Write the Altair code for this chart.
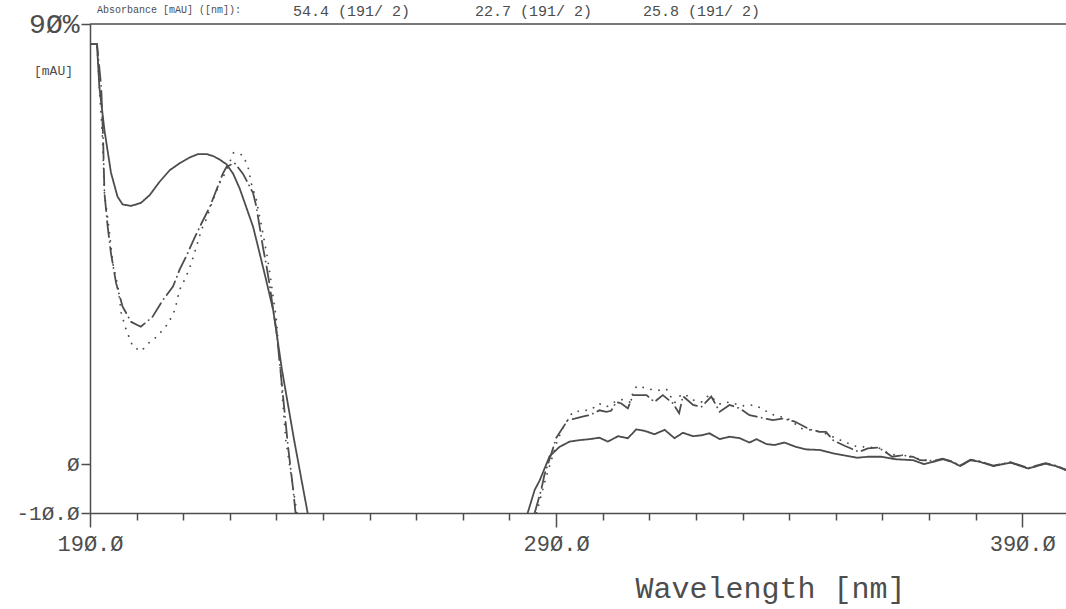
import altair as alt
import pandas as pd

# ---------------- data ----------------
series_names = ["solid", "dashdot", "dotted"]

solid_nm_a = [190.4, 191.5, 192.0, 193.1, 194.5, 195.9, 197.0, 198.8, 200.9, 202.8, 204.9, 207.1,
              209.2, 211.4, 213.2, 215.0, 216.4, 217.8, 219.3, 220.7, 222.1, 223.5, 225.0, 226.4,
              227.8, 229.3, 231.2, 233.8, 236.7]
solid_val_a = [85.9, 85.9, 77.2, 68.3, 59.6, 54.7, 53.1, 52.8, 53.4, 55.0, 57.7, 60.1,
               61.5, 62.7, 63.4, 63.4, 63.0, 62.3, 61.3, 59.4, 56.4, 52.6, 48.5, 43.1,
               37.6, 31.5, 19.2, 4.9, -10.0]
solid_nm_b = [283.9, 285.4, 286.5, 288.6, 290.7, 292.9, 295.0, 297.2, 299.3, 301.1, 303.3, 305.4,
              307.2, 309.0, 311.1, 313.3, 315.4, 317.2, 319.4, 321.2, 322.9, 325.1, 327.2, 329.4,
              331.5, 333.0, 335.1, 336.9, 339.0, 341.5, 343.7, 346.5, 349.4, 354.6, 356.9, 359.8,
              362.8, 366.6, 368.9, 371.1, 372.9, 374.8, 376.7, 378.9, 380.8, 383.8, 387.5, 391.3,
              395.0, 397.2, 399.3]
solid_val_b = [-10.0, -5.3, -3.3, 1.6, 3.5, 4.6, 4.9, 5.1, 5.4, 4.6, 5.7, 5.3,
               7.1, 6.8, 6.1, 7.0, 5.3, 6.4, 5.7, 5.9, 6.3, 5.1, 5.6, 5.3,
               4.4, 5.1, 4.1, 3.9, 4.4, 3.5, 3.0, 2.9, 2.2, 1.3, 1.5, 1.5,
               1.0, 0.8, 0.0, 0.5, 1.0, 0.5, -0.4, 0.8, 0.5, -0.4, 0.3, -0.9,
               0.1, -0.4, -1.2]

dashdot_nm_a = [190.4, 191.5, 192.4, 192.8, 193.1, 193.8, 194.5, 195.6, 197.0, 198.8, 200.9, 203.4,
                205.6, 207.8, 209.2, 210.6, 212.4, 213.9, 215.7, 217.1, 218.5, 219.3, 221.0, 222.8,
                224.3, 225.0, 225.7, 226.4, 227.1, 227.9, 228.6, 229.3, 230.0, 232.5, 233.6, 234.1]
dashdot_val_a = [85.9, 85.9, 77.2, 66.9, 55.4, 48.5, 43.1, 37.0, 32.2, 29.1, 28.1, 30.1,
                 33.5, 36.3, 39.7, 42.4, 46.2, 49.2, 52.6, 56.0, 59.4, 60.8, 61.6, 59.4,
                 56.7, 55.4, 52.6, 48.5, 44.4, 40.3, 36.3, 31.5, 27.4, 3.5, -5.3, -10.0]
dashdot_nm_b = [285.4, 286.8, 287.5, 289.0, 290.0, 292.5, 294.0, 296.1, 297.2, 299.3, 300.8, 301.8,
                302.9, 304.0, 305.4, 306.5, 309.4, 311.1, 312.9, 315.1, 316.4, 317.2, 319.4, 321.2,
                323.3, 325.1, 327.2, 329.4, 331.5, 336.5, 338.7, 341.2, 344.4, 346.5, 347.9, 349.4,
                352.0, 355.0, 356.9, 359.1, 360.6, 362.1, 364.4, 366.6, 368.1, 371.1, 372.9, 374.8,
                376.7, 378.9, 380.8, 383.8, 387.5, 391.3, 395.0, 397.2, 399.3]
dashdot_val_b = [-10.0, -5.3, -2.2, 2.2, 5.3, 9.0, 9.3, 9.8, 10.0, 11.0, 10.7, 10.9,
                 12.7, 12.4, 11.4, 14.1, 14.1, 12.7, 14.1, 12.4, 10.4, 13.9, 12.1, 11.7,
                 13.8, 10.7, 12.1, 11.4, 10.0, 9.0, 9.3, 8.7, 7.1, 6.6, 6.6, 4.9,
                 3.7, 2.5, 3.2, 3.4, 2.5, 1.5, 1.8, 1.5, 0.8, 0.7, 1.1, 0.6,
                 -0.3, 0.9, 0.6, -0.3, 0.4, -0.8, 0.2, -0.3, -1.1]

dotted_nm_a = [190.4, 191.5, 192.0, 192.7, 193.1, 194.2, 194.9, 196.0, 196.7, 197.8, 199.2, 201.0,
               202.5, 203.9, 205.3, 206.8, 208.2, 209.2, 210.6, 211.7, 212.8, 213.9, 215.0, 216.0,
               217.8, 219.3, 220.8, 222.8, 223.9, 224.6, 225.7, 226.4, 227.1, 227.9, 228.6, 229.3,
               230.0, 232.0, 234.4]
dotted_val_a = [85.9, 85.9, 77.2, 66.3, 55.4, 47.2, 41.0, 36.3, 30.8, 27.4, 24.0, 23.1,
                24.7, 25.7, 27.1, 28.8, 31.5, 35.6, 38.3, 41.0, 44.4, 47.9, 50.2, 53.0,
                57.4, 60.1, 63.7, 63.2, 60.8, 57.4, 54.0, 50.6, 47.2, 43.1, 39.0, 34.2,
                29.4, 4.9, -10.0]
dotted_nm_b = [285.8, 287.1, 288.0, 289.3, 290.3, 291.5, 293.6, 295.8, 297.6, 299.2, 300.8, 302.9,
               304.3, 305.8, 306.5, 307.3, 309.4, 311.1, 312.6, 313.7, 315.4, 316.9, 317.9, 319.4,
               321.2, 322.8, 325.1, 326.2, 327.9, 329.7, 332.6, 334.4, 336.2, 338.0, 339.4, 341.2,
               342.6, 344.4, 347.2, 351.7, 354.1, 356.9, 359.1, 361.6, 364.4, 366.6, 368.1, 371.1,
               372.9, 374.8, 376.7, 378.9, 380.8, 383.8, 387.5, 391.3, 395.0, 397.2, 399.3]
dotted_val_b = [-10.0, -5.3, -2.2, 1.8, 4.9, 7.5, 10.7, 10.9, 11.2, 12.4, 11.7, 12.9,
                13.2, 12.7, 14.6, 16.0, 15.5, 15.1, 15.1, 15.3, 12.5, 14.3, 14.1, 13.1,
                12.7, 14.1, 12.3, 12.7, 12.5, 11.9, 12.1, 11.2, 10.2, 9.7, 9.5, 8.3,
                7.3, 7.0, 6.5, 4.6, 3.7, 3.4, 3.4, 2.0, 1.8, 1.3, 1.0, 0.6,
                1.0, 0.5, -0.4, 0.8, 0.5, -0.4, 0.3, -0.9, 0.1, -0.4, -1.2]

x_tick_values = list(range(190, 400, 10))
x_label_values = [190, 290, 390]
x_label_texts = ["19Ø.Ø", "29Ø.Ø", "39Ø.Ø"]
y_tick_values = [-10, 0, 90]
y_tick_texts = ["-1Ø.Ø", "Ø", "9Ø%"]

header_label = "Absorbance [mAU] ([nm]):"
header_values = ["54.4 (191/ 2)", "22.7 (191/ 2)", "25.8 (191/ 2)"]

# ---------------- table ----------------
rows = []
for name, parts in [
    ("solid", [(solid_nm_a, solid_val_a), (solid_nm_b, solid_val_b)]),
    ("dashdot", [(dashdot_nm_a, dashdot_val_a), (dashdot_nm_b, dashdot_val_b)]),
    ("dotted", [(dotted_nm_a, dotted_val_a), (dotted_nm_b, dotted_val_b)]),
]:
    for i, (xs, ys) in enumerate(parts):
        for k, (xv, yv) in enumerate(zip(xs, ys)):
            rows.append({"nm": xv, "mAU": yv, "series": name, "line": f"{name}-{i}", "order": k})
df = pd.DataFrame(rows)

INK = "#4d4d4d"
FONT = "Liberation Mono"

def expr_map(values, texts):
    s = "''"
    for v, t in reversed(list(zip(values, texts))):
        s = f"datum.value == {v} ? '{t}' : {s}"
    return s

x_scale = alt.Scale(domain=[190, 399.4], nice=False, zero=False)
y_scale = alt.Scale(domain=[-10, 90], nice=False, zero=False)

x_axis = alt.Axis(
    values=x_tick_values,
    labelExpr=expr_map(x_label_values, x_label_texts),
    labelOverlap=False,
    labelFlush=False,
    tickSize={"condition": {"test": "datum.value % 100 == 90", "value": 14}, "value": 7},
    labelPadding=6,
    labelFontSize=22,
    labelBaseline="top",
    grid=False,
    title="Wavelength [nm]",
    titleFont=FONT,
    titleFontSize=30,
    titleFontWeight="normal",
    titleColor=INK,
    titleX=680,
    titleY=84,
    titleAlign="center",
    titleBaseline="alphabetic",
)
y_axis = alt.Axis(
    values=y_tick_values,
    labelExpr=expr_map(y_tick_values, y_tick_texts),
    labelOverlap=False,
    labelFlush=False,
    tickSize=9,
    ticks=True,
    labelPadding=2,
    labelFontSize={"condition": {"test": "datum.value == 90", "value": 28}, "value": 21},
    grid=False,
    title="[mAU]",
    titleAngle=0,
    titleX=-37,
    titleY=46,
    titleAlign="center",
    titleBaseline="middle",
    titleFont=FONT,
    titleFontSize=13,
    titleFontWeight="normal",
    titleColor=INK,
)

lines = alt.Chart(df).mark_line(strokeCap="round", clip=True, color=INK).encode(
    x=alt.X("nm:Q", scale=x_scale, axis=x_axis),
    y=alt.Y("mAU:Q", scale=y_scale, axis=y_axis),
    detail="line:N",
    order="order:Q",
    strokeDash=alt.StrokeDash(
        "series:N",
        scale=alt.Scale(domain=series_names, range=[[1, 0], [16, 5, 0.1, 5], [0.1, 8]]),
        legend=None,
    ),
    strokeWidth=alt.StrokeWidth(
        "series:N",
        scale=alt.Scale(domain=series_names, range=[1.8, 1.8, 2.7]),
        legend=None,
    ),
)

top_rule = alt.Chart(pd.DataFrame({"mAU": [90]})).mark_rule(color=INK, strokeWidth=1.5).encode(
    y=alt.Y("mAU:Q", scale=y_scale, axis=y_axis)
)

head1 = alt.Chart(pd.DataFrame({"t": [header_label]})).mark_text(
    align="left", baseline="middle", font=FONT, fontSize=10, color=INK
).encode(text="t:N", x=alt.value(7), y=alt.value(-14))

head_layers = []
for t, px in zip(header_values, [203, 385, 553]):
    head_layers.append(
        alt.Chart(pd.DataFrame({"t": [t]})).mark_text(
            align="left", baseline="middle", font=FONT, fontSize=15, color=INK
        ).encode(text="t:N", x=alt.value(px), y=alt.value(-13))
    )

chart = alt.layer(lines, top_rule, head1, *head_layers).properties(
    width=976,
    height=489,
    padding={"left": 90, "top": 24, "right": 0, "bottom": 96},
    autosize="none",
    background="white",
).configure_view(stroke=None).configure_axis(
    domainColor=INK,
    domainWidth=1.5,
    tickColor=INK,
    tickWidth=1.5,
    labelColor=INK,
    labelFont=FONT,
)

chart.save("out.html", embed_options={"renderer": "svg", "actions": False})
